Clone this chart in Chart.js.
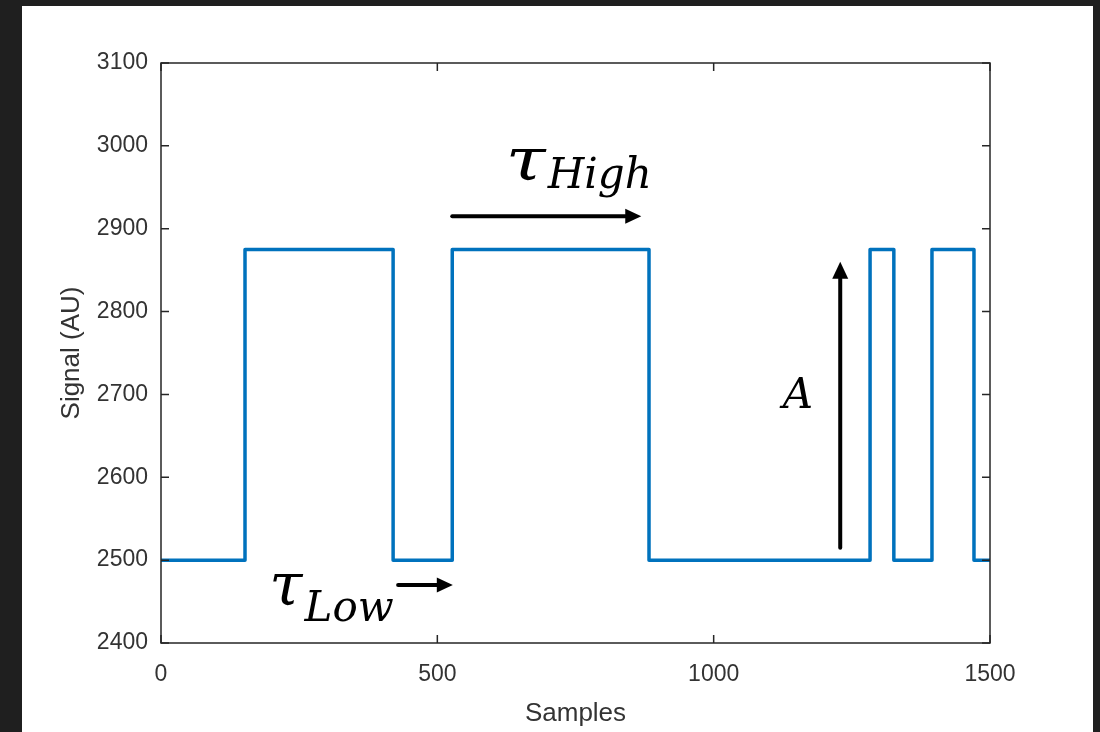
<!DOCTYPE html>
<html><head><meta charset="utf-8">
<script src="https://cdn.jsdelivr.net/npm/chart.js@4.4.0/dist/chart.umd.min.js"></script>
<style>
html,body{margin:0;padding:0;background:#1f1f1f;width:1100px;height:732px;overflow:hidden}
#wrap{position:absolute;left:22px;top:6px;width:1071px;height:726px;background:#fff}
canvas{display:block}
</style></head><body>
<div id="wrap"><canvas id="c" width="1071" height="726"></canvas></div>
<script>
// Data: sample index where each level starts, and the level held from there
const transitionSamples = [0, 152, 420, 527, 883, 1283, 1326, 1395, 1471, 1500];
const signalLevels      = [2500, 2875, 2500, 2875, 2500, 2875, 2500, 2875, 2500, 2500];
const yTickValues = [2400, 2500, 2600, 2700, 2800, 2900, 3000, 3100];
const xTickValues = [0, 500, 1000, 1500];
const xTitle = 'Samples';
const yTitle = 'Signal (AU)';

// Annotation anchors (data units)
const tauHighArrow = {x1: 527, x2: 869, y: 2915};
const tauLowArrow  = {x1: 429, x2: 528, y: 2470};
const ampArrow     = {x: 1229, y1: 2515, y2: 2860};
const tauHighLabel = {x: 624, y: 2959, sub: 'High', stretch: 1.2};
const tauLowLabel  = {x: 196, y: 2446, sub: 'Low', stretch: 1.0};
const ampLabel     = {x: 1125, y: 2684, text: 'A'};

const points = transitionSamples.map((s, i) => ({x: s, y: signalLevels[i]}));

function arrow(ctx, x1, y1, x2, y2, w, hl, hw) {
  const ang = Math.atan2(y2 - y1, x2 - x1);
  const bx = x2 - hl * Math.cos(ang), by = y2 - hl * Math.sin(ang);
  ctx.save();
  ctx.strokeStyle = '#000'; ctx.fillStyle = '#000';
  ctx.lineWidth = w; ctx.lineCap = 'round';
  ctx.beginPath(); ctx.moveTo(x1, y1); ctx.lineTo(bx, by); ctx.stroke();
  ctx.beginPath();
  ctx.moveTo(x2, y2);
  ctx.lineTo(bx + hw * Math.sin(ang), by - hw * Math.cos(ang));
  ctx.lineTo(bx - hw * Math.sin(ang), by + hw * Math.cos(ang));
  ctx.closePath(); ctx.fill();
  ctx.restore();
}

const frameAndNotes = {
  id: 'frameAndNotes',
  afterDatasetsDraw(chart) {
    const {ctx, chartArea: a, scales: {x, y}} = chart;
    ctx.save();
    ctx.strokeStyle = '#262626';
    ctx.lineWidth = 1.5;
    ctx.strokeRect(a.left, a.top, a.right - a.left, a.bottom - a.top);
    const tl = 8;
    ctx.beginPath();
    x.ticks.forEach(t => {
      const px = x.getPixelForValue(t.value);
      ctx.moveTo(px, a.bottom); ctx.lineTo(px, a.bottom - tl);
      ctx.moveTo(px, a.top); ctx.lineTo(px, a.top + tl);
    });
    y.ticks.forEach(t => {
      const py = y.getPixelForValue(t.value);
      ctx.moveTo(a.left, py); ctx.lineTo(a.left + tl, py);
      ctx.moveTo(a.right, py); ctx.lineTo(a.right - tl, py);
    });
    ctx.stroke();
    ctx.restore();

    // arrows
    arrow(ctx, x.getPixelForValue(tauHighArrow.x1), y.getPixelForValue(tauHighArrow.y),
               x.getPixelForValue(tauHighArrow.x2), y.getPixelForValue(tauHighArrow.y), 4, 16, 7.5);
    arrow(ctx, x.getPixelForValue(tauLowArrow.x1), y.getPixelForValue(tauLowArrow.y),
               x.getPixelForValue(tauLowArrow.x2), y.getPixelForValue(tauLowArrow.y), 4, 16, 7.5);
    arrow(ctx, x.getPixelForValue(ampArrow.x), y.getPixelForValue(ampArrow.y1),
               x.getPixelForValue(ampArrow.x), y.getPixelForValue(ampArrow.y2), 4, 17, 8);

    // labels
    ctx.save();
    ctx.fillStyle = '#000';
    ctx.textBaseline = 'alphabetic';
    ctx.textAlign = 'left';
    [tauHighLabel, tauLowLabel].forEach(L => {
      const px = x.getPixelForValue(L.x), py = y.getPixelForValue(L.y);
      ctx.save();
      ctx.translate(px, py);
      ctx.scale(L.stretch, 1);
      ctx.font = 'italic 60px "DejaVu Serif"';
      ctx.fillText('τ', 0, 0);
      const w = ctx.measureText('τ').width * L.stretch;
      ctx.restore();
      ctx.font = 'italic 42px "DejaVu Serif"';
      ctx.fillText(L.sub, px + w + 2, py + 8 + (L.sub === 'Low' ? 8 : 0));
    });
    ctx.font = 'italic 42px "DejaVu Serif"';
    ctx.fillText(ampLabel.text, x.getPixelForValue(ampLabel.x), y.getPixelForValue(ampLabel.y));
    ctx.restore();
  }
};

new Chart(document.getElementById('c'), {
  type: 'scatter',
  data: {
    datasets: [{
      data: points,
      showLine: true,
      stepped: 'before',
      borderColor: '#0072BD',
      borderWidth: 3.5,
      pointRadius: 0,
      fill: false,
      borderJoinStyle: 'round'
    }]
  },
  options: {
    responsive: false,
    devicePixelRatio: 1,
    animation: false,
    layout: {padding: {top: 57, right: 103, left: 0, bottom: 0}},
    plugins: {legend: {display: false}, tooltip: {enabled: false}},
    scales: {
      x: {
        type: 'linear', min: 0, max: 1500,
        afterBuildTicks: s => { s.ticks = xTickValues.map(v => ({value: v})); },
        afterFit: s => { s.height = 89; },
        grid: {display: false, drawTicks: false},
        border: {display: false},
        ticks: {color: '#333', padding: 18, maxRotation: 0,
                font: {family: '"Liberation Sans", Arial, sans-serif', size: 23},
                callback: v => String(v)},
        title: {display: true, text: xTitle, color: '#333',
                font: {family: '"Liberation Sans", Arial, sans-serif', size: 26},
                padding: {top: 0, bottom: 3}}
      },
      y: {
        type: 'linear', min: 2400, max: 3100,
        afterBuildTicks: s => { s.ticks = yTickValues.map(v => ({value: v})); },
        afterFit: s => { s.width = 139; },
        grid: {display: false, drawTicks: false},
        border: {display: false},
        ticks: {color: '#333', padding: 13,
                font: {family: '"Liberation Sans", Arial, sans-serif', size: 23},
                callback: v => String(v)},
        title: {display: true, text: yTitle, color: '#333',
                font: {family: '"Liberation Sans", Arial, sans-serif', size: 26},
                padding: {top: 34, bottom: 0}}
      }
    }
  },
  plugins: [frameAndNotes]
});
</script>
</body></html>
